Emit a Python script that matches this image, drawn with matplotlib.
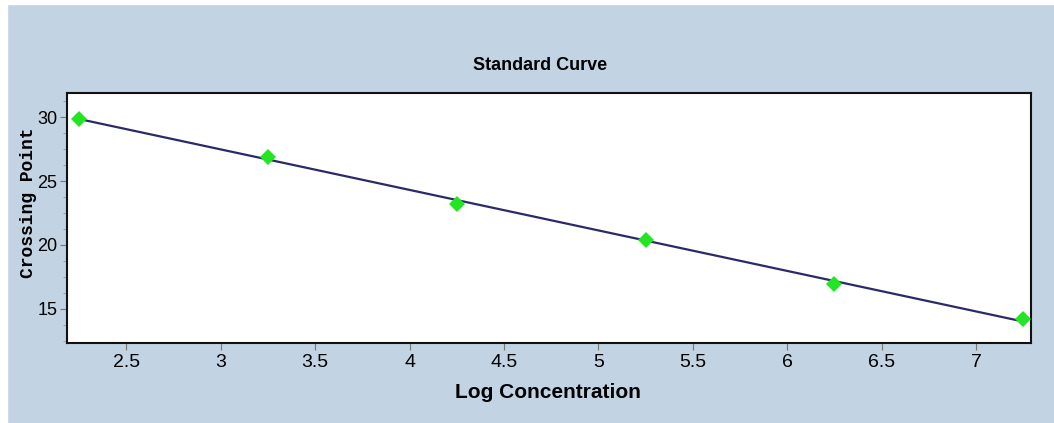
import numpy as np
import matplotlib.pyplot as plt
from matplotlib.ticker import MultipleLocator

# standard curve data
log_conc = [2.25, 3.25, 4.25, 5.25, 6.25, 7.25]
crossing_point = [29.9, 26.9, 23.2, 20.4, 16.95, 14.2]

x_ticks = [2.5, 3, 3.5, 4, 4.5, 5, 5.5, 6, 6.5, 7]
x_tick_labels = ['2.5', '3', '3.5', '4', '4.5', '5', '5.5', '6', '6.5', '7']
y_ticks = [15, 20, 25, 30]

bg = '#c2d3e3'
sans = ['Liberation Sans', 'DejaVu Sans']

fig = plt.figure(figsize=(10.54, 4.23), dpi=100, facecolor=bg)
ax = fig.add_axes([0.0636, 0.189, 0.9144, 0.591])

# regression line through the standards
slope, intercept = np.polyfit(log_conc, crossing_point, 1)
xs = np.array([log_conc[0], log_conc[-1]])
ax.plot(xs, slope * xs + intercept, color='#2a2a6a', lw=1.6, zorder=2)
ax.plot(log_conc, crossing_point, 'D', color='#22e622', markersize=8,
        markeredgewidth=0, zorder=3)

ax.set_xlim(2.186, 7.29)
ax.set_ylim(12.3, 31.9)
ax.set_xticks(x_ticks)
ax.set_xticklabels(x_tick_labels)
ax.set_yticks(y_ticks)
ax.yaxis.set_minor_locator(MultipleLocator(1.25))
ax.tick_params(axis='both', which='major', length=5, color='#777777',
               labelsize=14, pad=3)
ax.tick_params(axis='y', which='major', labelsize=13, pad=2)
ax.tick_params(axis='y', which='minor', length=3, color='#999999')
for lab in ax.get_xticklabels() + ax.get_yticklabels():
    lab.set_family(sans)

for s in ax.spines.values():
    s.set_linewidth(1.5)
    s.set_color('#111111')

fig.text(0.512, 0.845, 'Standard Curve', ha='center', va='center',
         fontsize=13, fontweight='bold', family=sans)
fig.text(0.520, 0.073, 'Log Concentration', ha='center', va='center',
         fontsize=15, fontweight='bold', family=sans)
fig.text(0.027, 0.52, 'Crossing Point', ha='center', va='center',
         rotation=90, fontsize=13, fontweight='bold',
         family=['Liberation Mono', 'DejaVu Sans Mono'])

# thin white margin at top and left as in the screenshot
fig.patches.append(plt.Rectangle((0, 0.99), 1, 0.01, transform=fig.transFigure,
                                 color='white', zorder=-1))
fig.patches.append(plt.Rectangle((0, 0), 0.007, 1, transform=fig.transFigure,
                                 color='white', zorder=-1))

fig.savefig('out.png', dpi=100, facecolor=bg)
